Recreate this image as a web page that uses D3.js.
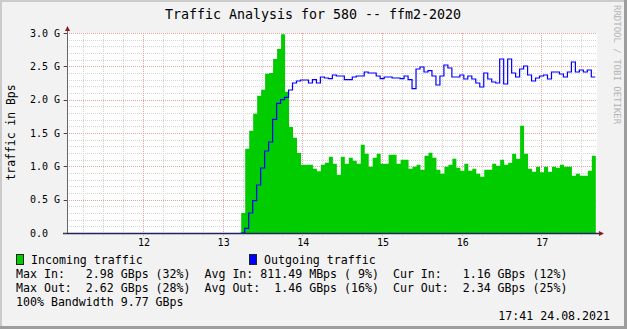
<!DOCTYPE html>
<html>
<head>
<meta charset="utf-8">
<script src="https://cdn.jsdelivr.net/npm/d3@7"></script>
<style>
body{margin:0;padding:0;background:#f2f2f2;}
text{font-family:"DejaVu Sans Mono",monospace;white-space:pre;}
</style>
</head>
<body>
<svg id="chart" width="627" height="329"></svg>
<script>
//data, 3 minute steps starting 13:14
var startTime=new Date(2021,7,24,13,14,0);
var stepMinutes=3;
var inTraffic=[0.30,1.265,1.535,1.79,2.06,2.15,2.39,2.40,2.61,2.76,
2.98,2.12,1.59,1.43,1.20,1.025,1.025,1.025,0.965,0.925,
1.025,1.055,1.145,1.04,0.875,1.145,1.04,1.13,1.085,1.04,
1.325,1.19,0.995,1.13,1.19,1.04,1.04,1.175,1.175,1.04,
1.10,1.10,0.965,0.995,1.025,0.95,1.16,1.205,1.13,0.95,
0.89,0.995,1.025,1.115,0.98,0.935,1.04,0.935,0.965,0.89,
0.845,0.95,0.95,1.04,1.01,1.10,1.025,1.055,1.19,1.115,
1.61,1.19,0.965,0.92,0.995,0.91,0.995,0.92,0.995,0.98,
1.025,0.995,0.995,0.86,0.89,0.86,0.86,0.935,1.16];
var outTraffic=[0,0.07,0.30,0.485,0.72,0.975,1.23,1.365,1.705,1.945,
2.0,2.035,2.145,2.25,2.28,2.295,2.295,2.25,2.30,2.25,
2.34,2.325,2.315,2.37,2.355,2.355,2.30,2.30,2.34,2.355,
2.355,2.415,2.40,2.40,2.355,2.315,2.34,2.34,2.325,2.325,
2.315,2.355,2.30,2.165,2.46,2.49,2.415,2.435,2.355,2.22,
2.355,2.52,2.475,2.34,2.34,2.37,2.31,2.355,2.31,2.25,
2.19,2.40,2.31,2.265,2.25,2.61,2.235,2.61,2.40,2.34,
2.46,2.505,2.37,2.28,2.325,2.355,2.37,2.31,2.415,2.415,
2.385,2.34,2.415,2.565,2.415,2.445,2.415,2.445,2.34];
var yTicks=[0,0.5,1.0,1.5,2.0,2.5,3.0];
var legendItems=["Incoming traffic","Outgoing traffic"];
var legendColors=["#00cc00","#0000ff"];
var statLines=[
"Max In:   2.98 GBps (32%)  Avg In: 811.49 MBps ( 9%)  Cur In:   1.16 GBps (12%)",
"Max Out:  2.62 GBps (28%)  Avg Out:  1.46 GBps (16%)  Cur Out:  2.34 GBps (25%)",
"100% Bandwidth 9.77 GBps"];
var stamp="17:41 24.08.2021";
var title="Traffic Analysis for 580 -- ffm2-2020";

var svg=d3.select("#chart");
var pLeft=67,pRight=597,pTop=33,pBottom=233;

function timeAt(i){return d3.timeMinute.offset(startTime,i*stepMinutes);}

var x=d3.scaleTime()
    .domain([new Date(2021,7,24,11,2,48),new Date(2021,7,24,17,41,54)])
    .range([pLeft,pRight]);
var y=d3.scaleLinear().domain([0,3.0]).range([pBottom,pTop]);

//frame
svg.append("rect").attr("width",627).attr("height",329).attr("fill","#f2f2f2");
svg.append("path").attr("d","M0,1H626M1,0V329").attr("stroke","#cbcbcb").attr("stroke-width",2);
svg.append("path").attr("d","M0,327.5H627M625.5,0V329").attr("stroke","#9d9d9d").attr("stroke-width",3);
svg.append("rect").attr("x",pLeft).attr("y",pTop).attr("width",pRight-pLeft).attr("height",pBottom-pTop).attr("fill","#fff");

//minor grid
var minorH=d3.range(1,30).map(function(d){return d/10;}).filter(function(d){return Math.round(d*10)%5!=0;});
svg.selectAll(".hmin").data(minorH).enter().append("line")
    .attr("x1",pLeft).attr("x2",pRight)
    .attr("y1",function(d){return Math.round(y(d))+0.5;}).attr("y2",function(d){return Math.round(y(d))+0.5;})
    .attr("stroke","#d4d4d4").attr("stroke-dasharray","1,1");
var minorV=d3.timeMinute.every(15).range(x.domain()[0],x.domain()[1]).filter(function(d){return d.getMinutes()!=0;});
svg.selectAll(".vmin").data(minorV).enter().append("line")
    .attr("x1",function(d){return Math.round(x(d))+0.5;}).attr("x2",function(d){return Math.round(x(d))+0.5;})
    .attr("y1",pTop).attr("y2",pBottom+3)
    .attr("stroke","#d4d4d4").attr("stroke-dasharray","1,1");

//major grid
svg.selectAll(".hmaj").data(yTicks.slice(1)).enter().append("line")
    .attr("x1",pLeft-4).attr("x2",pRight)
    .attr("y1",function(d){return Math.round(y(d))+0.5;}).attr("y2",function(d){return Math.round(y(d))+0.5;})
    .attr("stroke","#e8a4a4").attr("stroke-dasharray","1,1");
var hours=d3.timeHour.every(1).range(x.domain()[0],x.domain()[1]);
svg.selectAll(".vmaj").data(hours).enter().append("line")
    .attr("x1",function(d){return Math.round(x(d))+0.5;}).attr("x2",function(d){return Math.round(x(d))+0.5;})
    .attr("y1",pTop).attr("y2",pBottom+4)
    .attr("stroke","#e8a4a4").attr("stroke-dasharray","1,1");

//data
var inPts=inTraffic.map(function(v,i){return {t:timeAt(i),v:v};});
inPts.push({t:timeAt(inTraffic.length),v:inTraffic[inTraffic.length-1]});
var outPts=outTraffic.map(function(v,i){return {t:timeAt(i),v:v};});
outPts.push({t:timeAt(outTraffic.length),v:outTraffic[outTraffic.length-1]});

var area=d3.area().curve(d3.curveStepAfter)
    .x(function(d){return x(d.t);}).y0(y(0)).y1(function(d){return y(d.v);});
svg.append("path").datum(inPts).attr("d",area).attr("fill","#00cc00");
var line=d3.line().curve(d3.curveStepAfter)
    .x(function(d){return x(d.t)-0.5;}).y(function(d){return y(d.v);});
svg.append("path").datum(outPts).attr("d",line).attr("fill","none").attr("stroke","#0000ff").attr("stroke-width",1.2);

//axes
svg.append("line").attr("x1",pLeft+0.5).attr("x2",pLeft+0.5).attr("y1",pBottom).attr("y2",29).attr("stroke","#666");
svg.append("line").attr("x1",pLeft-4).attr("x2",600).attr("y1",pBottom+0.5).attr("y2",pBottom+0.5).attr("stroke","#22235e").attr("stroke-width",1.3);
svg.append("path").attr("d","M"+(pLeft+0.5)+",26L"+(pLeft+3)+",31L"+(pLeft-2)+",31Z").attr("fill","#8b1a1a");
svg.append("path").attr("d","M604,"+(pBottom+0.5)+"L599,"+(pBottom-2)+"L599,"+(pBottom+3)+"Z").attr("fill","#8b1a1a");

svg.selectAll(".ylab").data(yTicks).enter().append("text")
    .attr("x",30).attr("y",function(d){return y(d)+3.5;})
    .attr("font-size","10px").attr("fill","#000")
    .text(function(d){return d==0?"0.0":d.toFixed(1)+" G";});
svg.selectAll(".ytick").data(yTicks).enter().append("line")
    .attr("x1",pLeft-3).attr("x2",pLeft)
    .attr("y1",function(d){return Math.round(y(d))+0.5;}).attr("y2",function(d){return Math.round(y(d))+0.5;})
    .attr("stroke","#444");
svg.selectAll(".xlab").data(hours).enter().append("text")
    .attr("x",function(d){return x(d)+1;}).attr("y",246)
    .attr("text-anchor","middle").attr("font-size","10px")
    .text(d3.timeFormat("%H"));

//titles
svg.append("text").attr("x",313).attr("y",18.5).attr("text-anchor","middle").attr("font-size","13.3px").text(title);
svg.append("text").attr("transform","translate(15,132.5) rotate(-90)").attr("text-anchor","middle").attr("font-size","11.4px").text("traffic in Bps");
svg.append("text").attr("transform","translate(614,5) rotate(90)").attr("font-size","9px").attr("fill","#b4b4b4").text("RRDTOOL / TOBI OETIKER");

//legend
var legX=[16,249];
legendItems.forEach(function(name,i){
    svg.append("rect").attr("x",legX[i]+0.5).attr("y",254.5).attr("width",7).attr("height",10)
        .attr("fill",legendColors[i]).attr("stroke","#222");
    svg.append("text").attr("x",legX[i]+15).attr("y",263.5).attr("font-size","11.6px").text(name);
});
statLines.forEach(function(s,i){
    svg.append("text").attr("x",16).attr("y",277.5+i*14).attr("font-size","11.6px").text(s);
});
svg.append("text").attr("x",610).attr("y",319.5).attr("text-anchor","end").attr("font-size","11.6px").text(stamp);
</script>
</body>
</html>
